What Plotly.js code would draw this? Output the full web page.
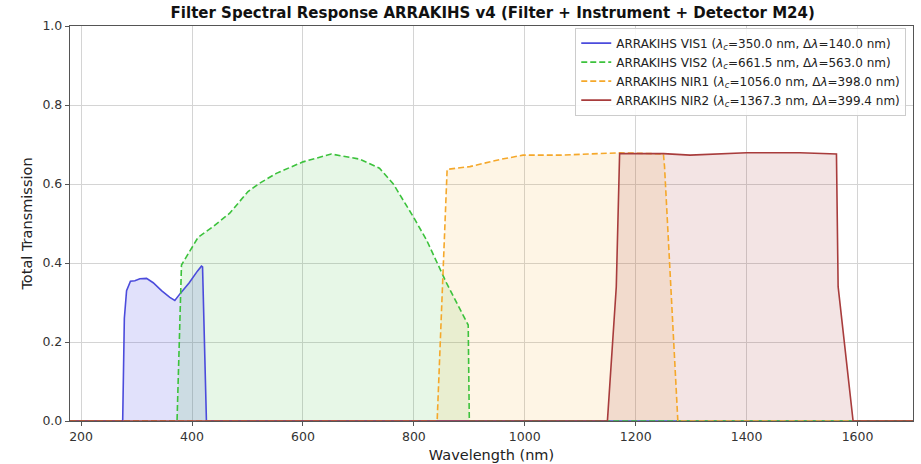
<!DOCTYPE html>
<html>
<head>
<meta charset="utf-8">
<script src="https://cdn.plot.ly/plotly-3.0.1.min.js"></script>
<style>html,body{margin:0;padding:0;background:#fff;}#chart{width:921px;height:464px;}</style>
</head>
<body>
<div id="chart"></div>
<script>
// Wavelengths (nm) and total transmission for each filter
const vis1Wave  = [180, 275, 278, 282, 289, 297, 306, 318, 330, 345, 360, 369, 380, 395, 410, 417, 419, 423, 426, 1700];
const vis1Trans = [0, 0, 0.26, 0.33, 0.354, 0.355, 0.36, 0.361, 0.35, 0.33, 0.313, 0.305, 0.325, 0.35, 0.38, 0.392, 0.39, 0.2, 0, 0];

const vis2Wave  = [180, 373, 381, 402, 411, 438, 468, 501, 522, 552, 600, 651, 702, 738, 763, 799, 823, 859, 898, 900, 1700];
const vis2Trans = [0, 0, 0.395, 0.446, 0.465, 0.492, 0.526, 0.581, 0.602, 0.627, 0.656, 0.676, 0.663, 0.64, 0.6, 0.517, 0.458, 0.349, 0.243, 0, 0];

const nir1Wave  = [180, 842, 860, 901, 955, 997, 1063, 1135, 1171, 1250, 1252, 1276, 1700];
const nir1Trans = [0, 0, 0.637, 0.644, 0.662, 0.673, 0.673, 0.676, 0.679, 0.676, 0.644, 0, 0];

const nir2Wave  = [180, 1149, 1165, 1171, 1250, 1298, 1400, 1496, 1562, 1565, 1592, 1700];
const nir2Trans = [0, 0, 0.34, 0.677, 0.677, 0.673, 0.679, 0.679, 0.676, 0.34, 0, 0];

const seriesNames = [
  'ARRAKIHS VIS1 (<i>λ</i><sub><i>c</i></sub>=350.0 nm, Δ<i>λ</i>=140.0 nm)',
  'ARRAKIHS VIS2 (<i>λ</i><sub><i>c</i></sub>=661.5 nm, Δ<i>λ</i>=563.0 nm)',
  'ARRAKIHS NIR1 (<i>λ</i><sub><i>c</i></sub>=1056.0 nm, Δ<i>λ</i>=398.0 nm)',
  'ARRAKIHS NIR2 (<i>λ</i><sub><i>c</i></sub>=1367.3 nm, Δ<i>λ</i>=399.4 nm)'
];

const styles = [
  {line: '#4b4bdc', fill: 'rgba(75,75,230,0.17)', dash: 'solid'},
  {line: '#3cc23c', fill: 'rgba(60,190,60,0.12)', dash: '6px,3px'},
  {line: '#f5a82a', fill: 'rgba(250,170,40,0.12)', dash: '6px,3px'},
  {line: '#a83c3c', fill: 'rgba(165,50,50,0.13)', dash: 'solid'}
];

const xs = [vis1Wave, vis2Wave, nir1Wave, nir2Wave];
const ys = [vis1Trans, vis2Trans, nir1Trans, nir2Trans];

// shaded areas (not in legend)
const fillTraces = xs.map((x, i) => ({
  x: x, y: ys[i], type: 'scatter', mode: 'none', showlegend: false,
  fill: 'tozeroy', fillcolor: styles[i].fill
}));
// outlines (in legend)
const lineTraces = xs.map((x, i) => ({
  x: x, y: ys[i], type: 'scatter', mode: 'lines', name: seriesNames[i],
  line: {color: styles[i].line, width: 1.6, dash: styles[i].dash}
}));

const font = 'DejaVu Sans, sans-serif';
const layout = {
  width: 921, height: 464,
  margin: {l: 70, r: 8, t: 26, b: 43},
  paper_bgcolor: '#fff', plot_bgcolor: '#fff',
  font: {family: font, size: 12, color: '#222'},
  title: {text: '<b>Filter Spectral Response ARRAKIHS v4 (Filter + Instrument + Detector M24)</b>',
          font: {family: font, size: 15, color: '#111'}, x: 0.535, xanchor: 'center', y: 0.972, yanchor: 'middle'},
  xaxis: {
    range: [180, 1700], tickvals: [200, 400, 600, 800, 1000, 1200, 1400, 1600],
    title: {text: 'Wavelength (nm)', font: {size: 14.5, color: '#222'}, standoff: 6},
    showgrid: true, gridcolor: '#d4d4d4', gridwidth: 1, zeroline: false,
    showline: true, mirror: true, linecolor: '#555', linewidth: 1.2,
    ticks: 'outside', ticklen: 4, tickcolor: '#555', tickfont: {size: 12.5, color: '#333'}
  },
  yaxis: {
    range: [0, 1], tickvals: [0, 0.2, 0.4, 0.6, 0.8, 1.0], tickformat: '.1f',
    title: {text: 'Total Transmission', font: {size: 14.5, color: '#222'}, standoff: 6},
    showgrid: true, gridcolor: '#d4d4d4', gridwidth: 1, zeroline: false,
    showline: true, mirror: true, linecolor: '#555', linewidth: 1.2,
    ticks: 'outside', ticklen: 4, tickcolor: '#555', tickfont: {size: 12.5, color: '#333'}
  },
  showlegend: true,
  legend: {x: 0.992, xanchor: 'right', y: 0.996, yanchor: 'top', itemwidth: 30,
           bgcolor: 'rgba(255,255,255,0.85)', bordercolor: '#cccccc', borderwidth: 1,
           font: {family: font, size: 12, color: '#222'}, tracegroupgap: 0}
};

Plotly.newPlot('chart', fillTraces.concat(lineTraces), layout, {staticPlot: true, displayModeBar: false});
</script>
</body>
</html>
